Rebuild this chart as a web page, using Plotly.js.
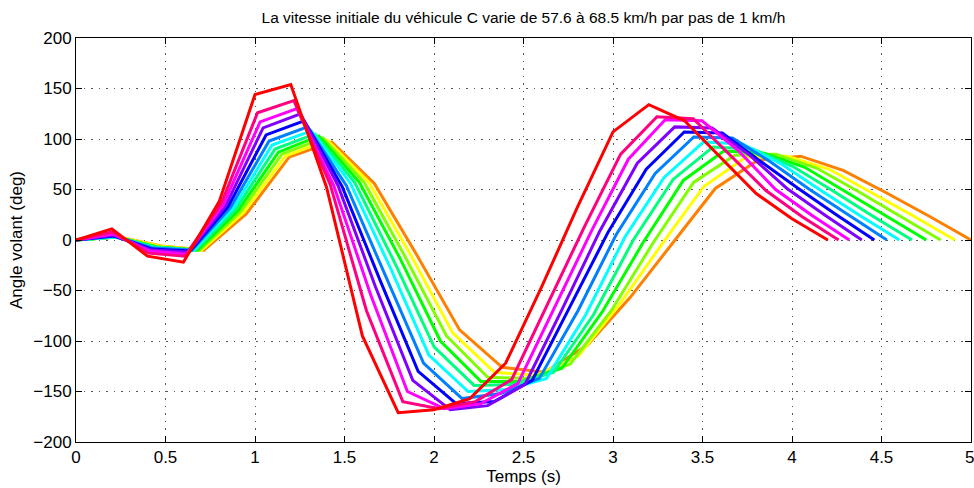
<!DOCTYPE html>
<html>
<head>
<meta charset="utf-8">
<script src="https://cdn.plot.ly/plotly-3.0.1.min.js"></script>
<style>html,body{margin:0;padding:0;background:#fff;}#chart{width:974px;height:488px;}</style>
</head>
<body>
<div id="chart"></div>
<script>
// Vitesse initiale (km/h) of each run, from 57.6 to 68.5
const speeds = [57.6, 58.6, 59.6, 60.6, 61.6, 62.6, 63.6, 64.6, 65.6, 66.6, 67.6, 68.5];
// End time of each run (s)
const durations = [5.00, 4.91, 4.83, 4.75, 4.67, 4.60, 4.53, 4.46, 4.39, 4.32, 4.26, 4.20];
// number of equal time steps per run
const nSteps = 21;
// Steering angle (deg) at each sample, one array per run
const y576 = [0, 3, -6, -10, 26, 82, 97, 56, -15, -89, -126, -131, -104, -57, -3, 51, 79, 83, 69, 47, 24, 0];
const y586 = [0, 3, -6, -10, 27, 83, 99, 57, -15, -92, -131, -134, -115, -63, -4, 53, 82, 83, 70, 47, 24, 0];
const y596 = [0, 3, -7, -10, 28, 85, 101, 57, -17, -95, -136, -137, -123, -70, -4, 57, 84, 85, 71, 48, 24, 0];
const y606 = [0, 3, -7, -10, 29, 87, 103, 57, -18, -100, -140, -140, -127, -71, -3, 59, 88, 86, 72, 48, 24, 0];
const y616 = [0, 3, -7, -10, 30, 90, 105, 57, -22, -106, -144, -143, -131, -74, 0, 60, 92, 90, 73, 49, 24, 0];
const y626 = [0, 3, -8, -10, 31, 94, 108, 56, -26, -114, -150, -148, -137, -74, 3, 62, 97, 95, 75, 49, 24, 0];
const y636 = [0, 4, -8, -10, 32, 98, 112, 54, -34, -122, -157, -152, -137, -70, 6, 66, 102, 101, 77, 50, 25, 0];
const y646 = [0, 4, -9, -11, 33, 104, 118, 53, -40, -130, -162, -160, -139, -65, 8, 70, 107, 106, 78, 51, 25, 0];
const y656 = [0, 5, -10, -12, 34, 111, 125, 54, -46, -139, -168, -164, -143, -68, 9, 76, 112, 111, 84, 51, 25, 0];
const y666 = [0, 6, -11, -14, 35, 117, 130, 54, -54, -150, -167, -162, -142, -66, 9, 80, 119, 118, 88, 50, 24, 0];
const y676 = [0, 8, -13, -16, 36, 126, 138, 55, -70, -160, -167, -160, -138, -63, 13, 85, 122, 120, 85, 49, 23, 0];
const y685 = [0, 11, -16, -22, 38, 144, 154, 52, -95, -171, -168, -157, -122, -47, 32, 107, 134, 118, 82, 46, 21, 0];
const angles = [y576, y586, y596, y606, y616, y626, y636, y646, y656, y666, y676, y685];
const colors = ['#ff8000', '#ffff00', '#80ff00', '#00ff00', '#00ff80', '#00ffff',
                '#0080ff', '#0000ff', '#8000ff', '#ff00ff', '#ff0080', '#ff0000'];
// Axis ticks (the last x label, at the right edge, is drawn as an annotation so it stays inside the page)
const xTicks = [0, 0.5, 1, 1.5, 2, 2.5, 3, 3.5, 4, 4.5, 5];
const xTickText = ['0', '0.5', '1', '1.5', '2', '2.5', '3', '3.5', '4', '4.5', ''];
const xLastLabel = '5';
const yTicks = [-200, -150, -100, -50, 0, 50, 100, 150, 200];

const traces = angles.map((ys, i) => ({
  type: 'scatter',
  mode: 'lines',
  x: ys.map((_, k) => k * durations[i] / nSteps),
  y: ys,
  name: speeds[i] + ' km/h',
  line: {color: colors[i], width: 3},
  showlegend: false,
  hoverinfo: 'skip'
}));

const font = 'Liberation Sans, Arial, Helvetica, sans-serif';
const gridStyle = {showgrid: true, gridcolor: '#555', griddash: '1.5px,6px', gridwidth: 1};
const layout = {
  width: 974, height: 488,
  margin: {l: 76, r: 3, t: 38, b: 46},
  paper_bgcolor: '#fff', plot_bgcolor: '#fff',
  font: {family: font, color: '#000', size: 17},
  title: {text: 'La vitesse initiale du véhicule C varie de 57.6 à 68.5 km/h par pas de 1 km/h',
          font: {family: font, size: 15.5, color: '#000'}, xref: 'paper', x: 0.5, xanchor: 'center', y: 0.963, yanchor: 'middle'},
  xaxis: Object.assign({
    range: [0, 5], tickvals: xTicks, ticktext: xTickText,
    showline: true, linecolor: '#000', linewidth: 1, mirror: 'ticks',
    ticks: 'inside', ticklen: 6, tickcolor: '#000',
    zeroline: false, tickfont: {size: 17},
    title: {text: 'Temps (s)', font: {size: 17}, standoff: 3}
  }, gridStyle),
  yaxis: Object.assign({
    range: [-200, 200], tickvals: yTicks,
    showline: true, linecolor: '#000', linewidth: 1, mirror: 'ticks',
    ticks: 'inside', ticklen: 6, tickcolor: '#000',
    zeroline: false, tickfont: {size: 17},
    title: {text: 'Angle volant (deg)', font: {size: 17}, standoff: 6}
  }, gridStyle),
  annotations: [{
    text: xLastLabel, x: xTicks[xTicks.length - 1], xref: 'x', y: 0, yref: 'paper',
    xanchor: 'center', yanchor: 'top', xshift: -2, yshift: -4, showarrow: false,
    font: {family: font, size: 17, color: '#000'}
  }]
};
Plotly.newPlot('chart', traces, layout, {staticPlot: true, displayModeBar: false});
</script>
</body>
</html>
